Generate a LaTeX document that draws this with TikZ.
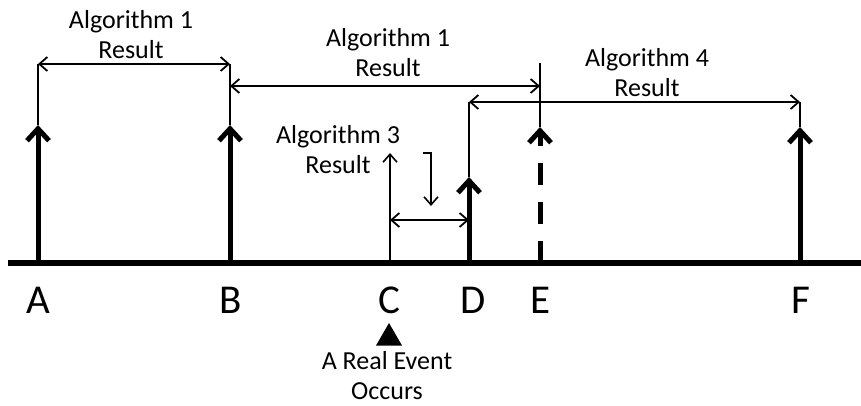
\documentclass[tikz,border=0pt]{standalone}
\usepackage{fontspec}
\setmainfont{Carlito}
\usetikzlibrary{arrows.meta,shapes.geometric}
\begin{document}
\begin{tikzpicture}[x=1pt,y=-1pt,
  thinline/.style={line width=1.8pt},
  thinarrow/.style={line width=1.6pt, -{Straight Barb[length=8pt,width=14pt]}},
  dblarrow/.style={line width=1.8pt, {Straight Barb[length=8pt,width=14pt]}-{Straight Barb[length=8pt,width=14pt]}},
  bigarrow/.style={line width=5pt, -{Straight Barb[length=12pt,width=22pt]}},
  txt/.style={font=\fontsize{26}{30}\selectfont, align=center, inner sep=0pt},
  lbl/.style={font=\fontsize{41}{41}\selectfont, inner sep=0pt, anchor=base},
]
\useasboundingbox (0,0) rectangle (861,405);
% coordinates
\coordinate (L) at (8,263); \coordinate (R) at (861,263);
\coordinate (a0) at (38,263); \coordinate (a1) at (38,125); \coordinate (a2) at (38,64);
\coordinate (b0) at (230,263); \coordinate (b1) at (230,125); \coordinate (b2) at (230,64); \coordinate (b3) at (230,86);
\coordinate (c0) at (390,263); \coordinate (c1) at (390,153); \coordinate (c2) at (390,220);
\coordinate (d0) at (469,263); \coordinate (d1) at (469,177); \coordinate (d2) at (469,220); \coordinate (d3) at (469,102);
\coordinate (e0) at (540,263); \coordinate (e1) at (540,127); \coordinate (e2) at (540,86); \coordinate (e3) at (540,63);
\coordinate (f0) at (800,263); \coordinate (f1) at (800,127); \coordinate (f2) at (800,102);
\coordinate (k1) at (423,153); \coordinate (k2) at (431,153); \coordinate (k3) at (431,206);
% thin verticals
\draw[thinline] (a1) -- (a2);
\draw[thinline] (b1) -- (b2);
\draw[thinline] (e1) -- (e3);
\draw[thinline] (d1) -- (d3);
\draw[thinline] (f1) -- (f2);
% double arrows
\draw[dblarrow] (a2) -- (b2);
\draw[dblarrow] (b3) -- (e2);
\draw[dblarrow] (d3) -- (f2);
\draw[dblarrow] (c2) -- (d2);
% thin arrows
\draw[thinarrow] (c0) -- (c1);
\draw[thinarrow] (k1) -- (k2) -- (k3);
% thick arrows
\draw[bigarrow] (a0) -- (a1);
\draw[bigarrow] (b0) -- (b1);
\draw[bigarrow] (d0) -- (d1);
\draw[bigarrow] (f0) -- (f1);
\draw[bigarrow, dash pattern=on 22pt off 17pt] (e0) -- (e1);
% baseline
\draw[line width=6.5pt] (L) -- (R);
% labels
\node[lbl] (A) at (38,313) {A};
\node[lbl] (B) at (231,313) {B};
\node[lbl] (C) at (389,313) {C};
\node[lbl] (D) at (473,313) {D};
\node[lbl] (E) at (541,313) {E};
\node[lbl] (F) at (801,313) {F};
% texts
\node[txt] (t1) at (131,35) {Algorithm 1\\Result};
\node[txt] (t2) at (388,53) {Algorithm 1\\Result};
\node[txt] (t4) at (647,73) {Algorithm 4\\Result};
\node[txt] (t3) at (338,150) {Algorithm 3\\Result};
\node[regular polygon, regular polygon sides=3, fill=black, inner sep=0pt, minimum size=30pt] (tri) at (389,338) {};
\node[txt] (ev) at (387,376) {A Real Event\\Occurs};
\end{tikzpicture}
\end{document}
